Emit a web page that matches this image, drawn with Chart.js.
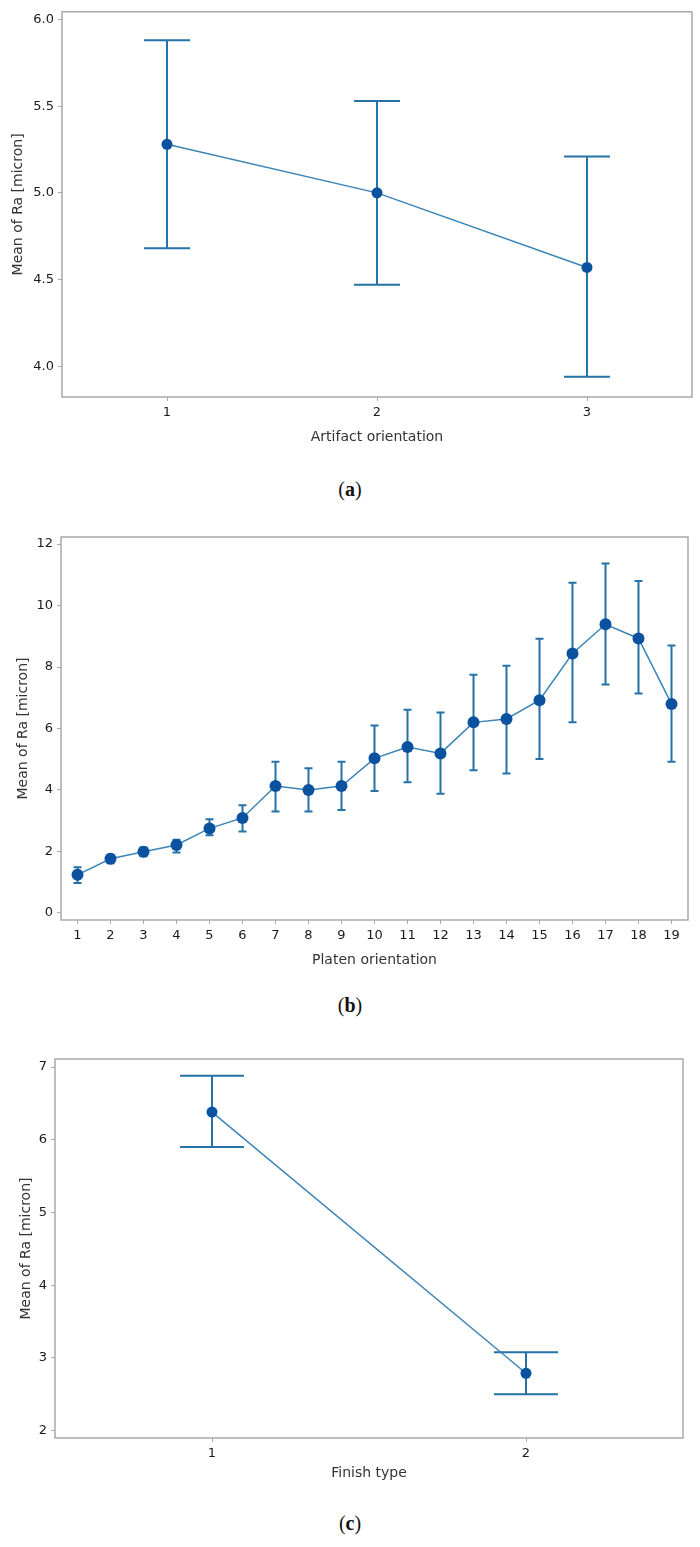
<!DOCTYPE html>
<html>
<head>
<meta charset="utf-8">
<script src="https://cdn.jsdelivr.net/npm/chart.js@4.4.0/dist/chart.umd.min.js"></script>
<style>
  body { margin:0; background:#fff; width:700px; height:1547px; position:relative; overflow:hidden; }
  canvas { position:absolute; left:0; }
  .cap { position:absolute; left:0; width:700px; text-align:center; line-height:22px;
         font-family:"Liberation Serif","DejaVu Serif",serif; font-size:20px; color:#111; }
</style>
</head>
<body>
<canvas id="chartA" width="700" height="470" style="top:0px"></canvas>
<div class="cap" style="top:478px">(<b>a</b>)</div>
<canvas id="chartB" width="700" height="460" style="top:520px"></canvas>
<div class="cap" style="top:994px">(<b>b</b>)</div>
<canvas id="chartC" width="700" height="440" style="top:1040px"></canvas>
<div class="cap" style="top:1512px">(<b>c</b>)</div>

<script>
// (a) artifact orientation
const artifactLabels = ["1", "2", "3"];
const artifactMean = [5.28, 5.00, 4.57];
const artifactUpper = [5.88, 5.53, 5.21];
const artifactLower = [4.68, 4.47, 3.94];
const artifactTicks = [4.0, 4.5, 5.0, 5.5, 6.0];

// (b) platen orientation
const platenLabels = ["1","2","3","4","5","6","7","8","9","10","11","12","13","14","15","16","17","18","19"];
const platenMean  = [1.24, 1.76, 1.99, 2.21, 2.75, 3.09, 4.13, 4.00, 4.13, 5.03, 5.40, 5.19, 6.20, 6.31, 6.92, 8.44, 9.39, 8.93, 6.80];
const platenUpper = [1.49, 1.89, 2.13, 2.38, 3.05, 3.50, 4.92, 4.71, 4.92, 6.10, 6.61, 6.52, 7.75, 8.04, 8.92, 10.74, 11.37, 10.80, 8.70];
const platenLower = [0.97, 1.62, 1.84, 1.97, 2.53, 2.65, 3.30, 3.30, 3.35, 3.97, 4.25, 3.88, 4.64, 4.54, 5.01, 6.20, 7.43, 7.14, 4.92];
const platenTicks = [0, 2, 4, 6, 8, 10, 12];

// (c) finish type
const finishLabels = ["1", "2"];
const finishMean = [6.38, 2.79];
const finishUpper = [6.88, 3.08];
const finishLower = [5.90, 2.50];
const finishTicks = [2, 3, 4, 5, 6, 7];

const yTitle = "Mean of Ra [micron]";
const fontFam = '"DejaVu Sans", sans-serif';

const errorBars = {
  id: "errorBars",
  beforeDatasetsDraw(chart, args, opts) {
    const ctx = chart.ctx;
    const xs = chart.scales.x, ys = chart.scales.y;
    ctx.save();
    ctx.strokeStyle = opts.color;
    ctx.lineWidth = opts.width;
    opts.upper.forEach((hi, i) => {
      const px = xs.getPixelForValue(i);
      const top = ys.getPixelForValue(hi);
      const bot = ys.getPixelForValue(opts.lower[i]);
      ctx.beginPath();
      ctx.moveTo(px, top); ctx.lineTo(px, bot);
      ctx.moveTo(px - opts.cap, top); ctx.lineTo(px + opts.cap, top);
      ctx.moveTo(px - opts.cap, bot); ctx.lineTo(px + opts.cap, bot);
      ctx.stroke();
    });
    ctx.restore();
  }
};

const frame = {
  id: "frame",
  beforeDatasetsDraw(chart) {
    const a = chart.chartArea, ctx = chart.ctx;
    ctx.save();
    ctx.strokeStyle = "#a9a9a9";
    ctx.lineWidth = 1.5;
    ctx.strokeRect(a.left, a.top, a.right - a.left, a.bottom - a.top);
    ctx.restore();
  }
};

// s = settings for one panel (frame box, axis range, fonts ...)
function makeChart(id, labels, mean, upper, lower, ticks, s) {
  const canvas = document.getElementById(id);
  const H = canvas.height;
  const xTitleFont = 14;
  new Chart(canvas, {
    type: "line",
    data: {
      labels: labels,
      datasets: [{
        data: mean,
        borderColor: "#3a84b6",
        borderWidth: 1.5,
        pointRadius: s.radius,
        pointBackgroundColor: "#0a519f",
        pointBorderWidth: 0,
        pointHoverRadius: s.radius,
        tension: 0
      }]
    },
    options: {
      responsive: false,
      animation: false,
      events: [],
      layout: { padding: { left: 0, right: 700 - s.right, top: s.top, bottom: 0 } },
      plugins: {
        legend: { display: false },
        tooltip: { enabled: false },
        errorBars: { upper: upper, lower: lower, cap: s.cap, color: "#2572a8", width: 2 }
      },
      scales: {
        x: {
          type: "category",
          offset: true,
          grid: { offset: false, drawOnChartArea: false, drawTicks: true, tickLength: 4, color: "#aaa" },
          border: { display: false },
          ticks: { color: "#1a1a1a", padding: 4, maxRotation: 0, autoSkip: false, font: { family: fontFam, size: 13 } },
          title: {
            display: true, text: s.xTitle, color: "#333",
            font: { family: fontFam, size: xTitleFont },
            padding: { top: 0, bottom: H - s.xTitleY - xTitleFont * 0.6 }
          },
          afterFit: sc => { sc.height = H - s.bottom; }
        },
        y: {
          min: s.min, max: s.max,
          grid: { drawOnChartArea: false, drawTicks: true, tickLength: 4, color: "#aaa" },
          border: { display: false },
          afterBuildTicks: sc => { sc.ticks = ticks.map(v => ({ value: v })); },
          ticks: {
            color: "#1a1a1a", padding: 4,
            font: { family: fontFam, size: 13 },
            callback: v => v.toFixed(s.dec)
          },
          title: {
            display: true, text: yTitle, color: "#333",
            font: { family: fontFam, size: 14 },
            padding: { top: s.yTitleX - 8.4, bottom: 0 }
          },
          afterFit: sc => { sc.width = s.left; }
        }
      }
    },
    plugins: [frame, errorBars]
  });
}

makeChart("chartA", artifactLabels, artifactMean, artifactUpper, artifactLower, artifactTicks, {
  left: 62, right: 692, top: 8, bottom: 397, min: 3.823, max: 6.044, dec: 1,
  cap: 23, radius: 5.5, xTitle: "Artifact orientation", xTitleY: 437, yTitleX: 18
});
makeChart("chartB", platenLabels, platenMean, platenUpper, platenLower, platenTicks, {
  left: 61, right: 688, top: 17, bottom: 400, min: -0.23, max: 12.23, dec: 0,
  cap: 4, radius: 6, xTitle: "Platen orientation", xTitleY: 440, yTitleX: 23
});
makeChart("chartC", finishLabels, finishMean, finishUpper, finishLower, finishTicks, {
  left: 55, right: 683, top: 19, bottom: 398, min: 1.90, max: 7.11, dec: 0,
  cap: 32, radius: 5.5, xTitle: "Finish type", xTitleY: 433, yTitleX: 26
});
</script>
</body>
</html>
